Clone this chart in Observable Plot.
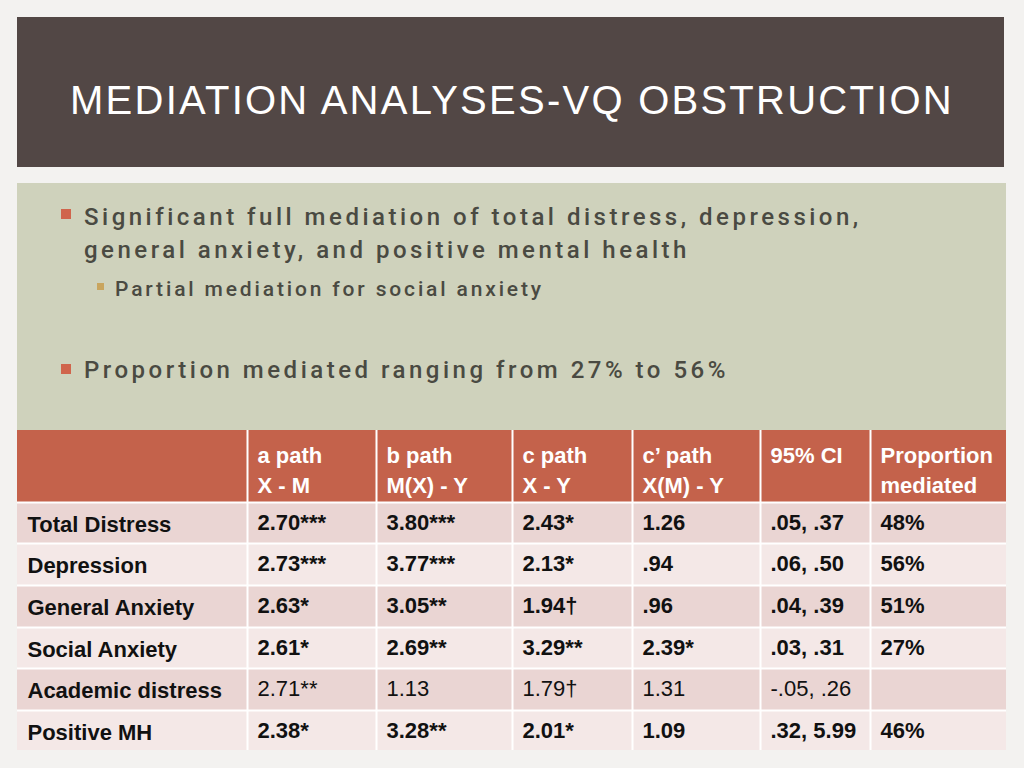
<!DOCTYPE html>
<html>
<head>
<meta charset="utf-8">
<script src="https://cdn.jsdelivr.net/npm/d3@7"></script>
<script src="https://cdn.jsdelivr.net/npm/@observablehq/plot@0.6"></script>
<style>
  html, body { margin: 0; padding: 0; }
  body { width: 1024px; height: 768px; background: #f3f2f0; position: relative; overflow: hidden; font-family: "Liberation Sans", Arial, sans-serif; }
  #titlebox { position: absolute; left: 17px; top: 17px; width: 987px; height: 150px; background: #524745; }
  #title { position: absolute; left: 53px; top: 60px; margin: 0; color: #ffffff; font-size: 40px; font-weight: normal; letter-spacing: 2.25px; line-height: 46px; white-space: nowrap; }
  #panel { position: absolute; left: 17px; top: 183px; width: 989px; height: 247px; background: #cfd2bc; }
  .bullet { position: absolute; color: #4a4a42; white-space: nowrap; font-family: Roboto, "Liberation Sans", sans-serif; font-weight: 500; }
  .b1 { font-size: 24px; letter-spacing: 3.5px; line-height: 33px; }
  .b2 { font-size: 21px; letter-spacing: 2.85px; }
  .sq { position: absolute; }
  #table { position: absolute; left: 17px; top: 430px; }
</style>
</head>
<body>
<div id="titlebox"><h1 id="title">MEDIATION ANALYSES-VQ OBSTRUCTION</h1></div>
<div id="panel"></div>
<div class="sq" style="left:61px;top:209px;width:10px;height:10px;background:#d0654c"></div>
<div class="bullet b1" style="left:84px;top:201px">Significant full mediation of total distress, depression,<br>general anxiety, and positive mental health</div>
<div class="sq" style="left:97px;top:283px;width:7px;height:7px;background:#c9a55e"></div>
<div class="bullet b2" style="left:115px;top:277px">Partial mediation for social anxiety</div>
<div class="sq" style="left:61px;top:364px;width:10px;height:10px;background:#d0654c"></div>
<div class="bullet b1" style="left:84px;top:354px">Proportion mediated ranging from 27% to 56%</div>
<div id="table"></div>
<script>
// ---- data ----
const headerLine1 = ["", "a path", "b path", "c path", "c\u2019 path", "95% CI", "Proportion"];
const headerLine2 = ["", "X - M", "M(X) - Y", "X - Y", "X(M) - Y", "", "mediated"];
const outcomes = ["Total Distress", "Depression", "General Anxiety", "Social Anxiety", "Academic distress", "Positive MH"];
const aPath = ["2.70***", "2.73***", "2.63*", "2.61*", "2.71**", "2.38*"];
const bPath = ["3.80***", "3.77***", "3.05**", "2.69**", "1.13", "3.28**"];
const cPath = ["2.43*", "2.13*", "1.94\u2020", "3.29**", "1.79\u2020", "2.01*"];
const cPrimePath = ["1.26", ".94", ".96", "2.39*", "1.31", "1.09"];
const ci95 = [".05, .37", ".06, .50", ".04, .39", ".03, .31", "-.05, .26", ".32, 5.99"];
const proportion = ["48%", "56%", "51%", "27%", "", "46%"];
const significant = [true, true, true, true, false, true];

// ---- layout (table units) ----
const colEdges = [0, 230, 359, 495, 615, 743, 853, 989];
const rowEdges = [0, 72, 113, 155, 197, 238, 280, 320];
const W = 989, H = 320;

const columnsData = [outcomes, aPath, bPath, cPath, cPrimePath, ci95, proportion];

const cells = [];
for (let c = 0; c < 7; c++) {
  cells.push({row: 0, col: c, fill: "#c4624b"});
  for (let r = 0; r < outcomes.length; r++) {
    cells.push({row: r + 1, col: c, fill: r % 2 === 0 ? "#ead5d3" : "#f4e8e7"});
  }
}
const bodyTexts = [];
for (let c = 0; c < 7; c++) {
  for (let r = 0; r < outcomes.length; r++) {
    bodyTexts.push({row: r + 1, col: c, text: columnsData[c][r], bold: significant[r]});
  }
}
const headTexts = headerLine1.map((t, c) => ({col: c, l1: t, l2: headerLine2[c]}));
const cx = d => colEdges[d.col] + 10;

const chart = Plot.plot({
  width: W, height: H, margin: 0,
  x: {domain: [0, W], range: [0, W], axis: null},
  y: {domain: [0, H], range: [0, H], axis: null},
  style: {background: "transparent", fontFamily: "'Liberation Sans', Arial, sans-serif"},
  marks: [
    Plot.rect(cells, {x1: d => colEdges[d.col], x2: d => colEdges[d.col + 1], y1: d => rowEdges[d.row], y2: d => rowEdges[d.row + 1], fill: d => d.fill}),
    Plot.ruleX(colEdges.slice(1, -1), {y1: 0, y2: H, stroke: "#ffffff", strokeWidth: 2}),
    Plot.ruleY(rowEdges.slice(1, -1), {x1: 0, x2: W, stroke: "#ffffff", strokeWidth: 2}),
    Plot.text(headTexts, {x: cx, y: 25, text: "l1", textAnchor: "start", fill: "#ffffff", fontSize: 22, fontWeight: "bold"}),
    Plot.text(headTexts, {x: cx, y: 55, text: "l2", textAnchor: "start", fill: "#ffffff", fontSize: 22, fontWeight: "bold"}),
    Plot.text(bodyTexts.filter(d => d.col === 0), {x: cx, y: d => rowEdges[d.row] + 22, text: "text", textAnchor: "start", fill: "#111111", fontSize: 22, fontWeight: "bold"}),
    Plot.text(bodyTexts.filter(d => d.col > 0 && d.bold), {x: cx, y: d => rowEdges[d.row] + 20, text: "text", textAnchor: "start", fill: "#111111", fontSize: 22, fontWeight: "bold"}),
    Plot.text(bodyTexts.filter(d => d.col > 0 && !d.bold), {x: cx, y: d => rowEdges[d.row] + 20, text: "text", textAnchor: "start", fill: "#111111", fontSize: 22, fontWeight: "normal"})
  ]
});
document.getElementById("table").appendChild(chart);
</script>
</body>
</html>
